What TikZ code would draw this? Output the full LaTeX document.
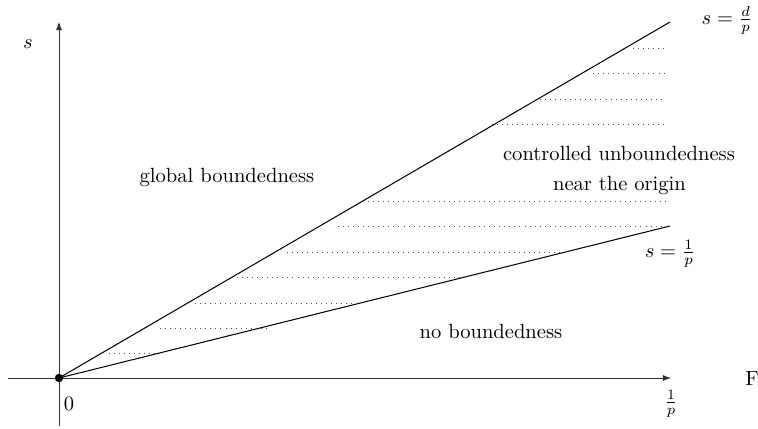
\documentclass[tikz,border=0pt]{standalone}
\usetikzlibrary{arrows.meta}
\begin{document}
\begin{tikzpicture}[x=0.486pt,y=-0.486pt,
  axis/.style={draw=black!80,line width=0.45pt},
  bound/.style={draw=black,line width=0.5pt},
  hatch/.style={draw=black!70,dotted,line width=0.45pt},
  lbl/.style={inner sep=0pt,font=\normalsize}]
\useasboundingbox (0,0) rectangle (758,428);
% key points
\coordinate (O) at (59,378);
\coordinate (xs) at (8,378);
\coordinate (xe) at (671,378);
\coordinate (ys) at (59,426);
\coordinate (ye) at (59,22);
\coordinate (U) at (670,22);
\coordinate (L) at (670,226);
% axes
\draw[axis,-{Latex[length=4pt,width=3pt]}] (xs) -- (xe);
\draw[axis,-{Latex[length=4pt,width=3pt]}] (ys) -- (ye);
% boundary lines
\draw[bound] (O) -- (U);
\draw[bound] (O) -- (L);
% dotted hatching
\foreach \xa/\xb/\y in {633/666/48, 593/666/73, 540/666/99, 492/666/124,
  368/666/201, 338/668/226, 287/565/252, 232/462/277, 195/356/303,
  160/267/328, 109/157/353}
  \draw[hatch] (\xa,\y) -- (\xb,\y);
% origin dot
\fill (O) circle (4.2);
% labels
\node[lbl] (s) at (28,44) {$s$};
\node[lbl] (zero) at (69,404) {$0$};
\node[lbl] (onep) at (671,404) {$\frac{1}{p}$};
\node[lbl] (F) at (752,378) {F};
\node[lbl] (sd) at (727,20) {$s=\frac{d}{p}$};
\node[lbl] (s1) at (670,254) {$s=\frac{1}{p}$};
\node[lbl] (gb) at (227,177) {global boundedness};
\node[lbl] (cu) at (619,153) {controlled unboundedness};
\node[lbl] (no) at (619.5,185) {near the origin};
\node[lbl] (nb) at (491,331) {no boundedness};
\end{tikzpicture}
\end{document}
